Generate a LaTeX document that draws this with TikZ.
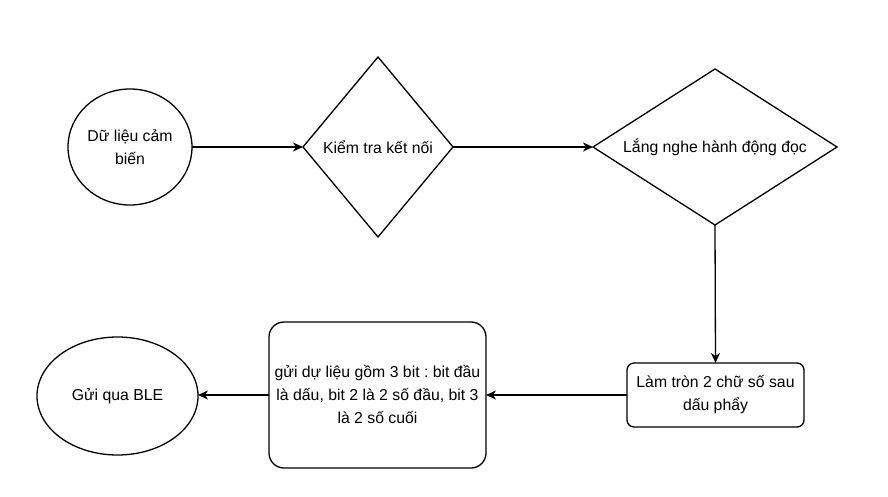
\documentclass[tikz,border=0pt]{standalone}
\usepackage{fontspec}
\setmainfont{Liberation Sans}
\usetikzlibrary{shapes.geometric,arrows.meta}
\frenchspacing
\begin{document}
\begin{tikzpicture}[x=1pt,y=-1pt,
  txt/.style={font=\fontsize{15.8}{23}\selectfont,align=center,inner sep=0pt},
  base/.style={draw=black,line width=1.3pt,txt,outer sep=0pt},
  ell/.style={base,ellipse},
  dia/.style={base,diamond},
  rbox/.style={base,rectangle},
  conn/.style={line width=1.3pt,-{Stealth[length=10pt,width=9pt,inset=3pt]}}]
\useasboundingbox[fill=white] (0,0) rectangle (888,497);
\node[ell,minimum width=124pt,minimum height=116pt] (a) at (130,147) {Dữ liệu cảm\\biến};
\node[dia,minimum width=150pt,minimum height=180pt,aspect=0.833] (b) at (378,147) {};
\node[txt] (bt) at (378,147) {Kiểm tra kết nối};
\node[dia,minimum width=244pt,minimum height=156pt,aspect=1.56] (c) at (715,147) {};
\node[txt] (ct) at (715,147) {Lắng nghe hành động đọc};
\node[rbox,rounded corners=7pt,minimum width=177pt,minimum height=64pt] (d) at (715.5,395) {Làm tròn 2 chữ số sau\\dấu phẩy};
\node[rbox,rounded corners=15pt,minimum width=217pt,minimum height=146pt] (e) at (377.5,395) {gửi dự liệu gồm 3 bit : bit đầu\\là dấu, bit 2 là 2 số đầu, bit 3\\là 2 số cuối};
\node[ell,minimum width=161pt,minimum height=118pt] (f) at (117.5,396) {Gửi qua BLE};
\draw[conn] (a.east) -- (b.west);
\draw[conn] (b.east) -- (c.west);
\draw[conn] (c.south) -- (d.north);
\draw[conn] (d.west) -- (e.east);
\draw[conn] (e.west) -- (f.east |- e.west);
\end{tikzpicture}
\end{document}
